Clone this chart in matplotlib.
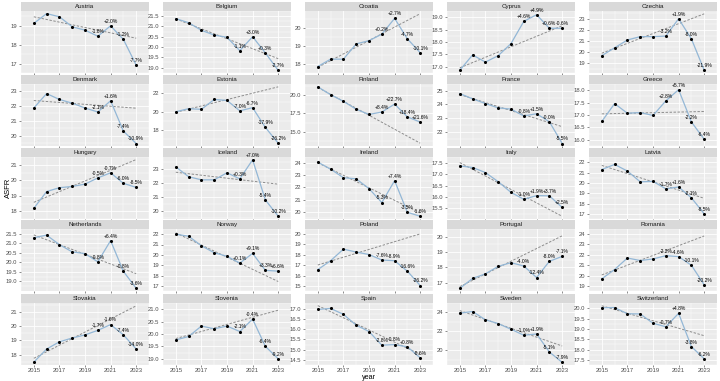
import numpy as np
import matplotlib
matplotlib.use('Agg')
import matplotlib.pyplot as plt
from matplotlib.patches import Rectangle

plt.rcParams['font.family'] = ['Liberation Sans', 'DejaVu Sans']

years = [2015, 2016, 2017, 2018, 2019, 2020, 2021, 2022, 2023]

countries = ["Austria", "Belgium", "Croatia", "Cyprus", "Czechia",
             "Denmark", "Estonia", "Finland", "France", "Greece",
             "Hungary", "Iceland", "Ireland", "Italy", "Latvia",
             "Netherlands", "Norway", "Poland", "Portugal", "Romania",
             "Slovakia", "Slovenia", "Spain", "Sweden", "Switzerland"]

asfr = {
    "Austria":     [19.13, 19.65, 19.48, 18.95, 18.77, 18.45, 19.00, 18.28, 16.92],
    "Belgium":     [21.38, 21.18, 20.81, 20.58, 20.47, 19.82, 20.50, 19.71, 18.86],
    "Croatia":     [17.86, 18.27, 18.27, 19.12, 19.30, 19.66, 20.54, 19.40, 18.63],
    "Cyprus":      [16.85, 17.47, 17.18, 17.44, 17.93, 18.83, 19.10, 18.55, 18.55],
    "Czechia":     [19.70, 20.40, 21.10, 21.40, 21.40, 21.45, 23.00, 21.20, 18.40],
    "Denmark":     [21.87, 22.85, 22.45, 22.20, 21.87, 21.60, 22.36, 20.30, 19.46],
    "Estonia":     [20.00, 20.33, 20.26, 21.33, 21.22, 20.10, 20.44, 18.30, 16.60],
    "Finland":     [21.13, 20.05, 19.15, 18.07, 17.36, 17.69, 18.77, 17.03, 16.32],
    "France":      [24.80, 24.41, 24.07, 23.75, 23.66, 23.16, 23.32, 22.73, 21.14],
    "Greece":      [16.74, 17.46, 17.07, 17.10, 16.98, 17.57, 18.02, 16.72, 16.02],
    "Hungary":     [18.19, 19.27, 19.52, 19.60, 19.75, 20.15, 20.48, 19.80, 19.54],
    "Iceland":     [23.12, 22.42, 22.20, 22.20, 22.70, 22.27, 23.62, 20.77, 19.62],
    "Ireland":     [24.08, 23.50, 22.80, 22.70, 21.90, 20.75, 22.55, 19.95, 19.62],
    "Italy":       [17.36, 17.29, 17.07, 16.67, 16.20, 15.90, 16.06, 16.05, 15.54],
    "Latvia":      [21.29, 21.78, 21.14, 20.10, 20.14, 19.42, 19.60, 18.55, 17.00],
    "Netherlands": [21.29, 21.43, 20.93, 20.55, 20.46, 20.03, 21.14, 19.53, 18.64],
    "Norway":      [22.00, 21.80, 20.88, 20.20, 19.86, 19.20, 20.14, 18.50, 18.42],
    "Poland":      [16.57, 17.43, 18.55, 18.27, 18.03, 17.50, 17.43, 16.42, 15.03],
    "Portugal":    [16.62, 17.27, 17.57, 18.06, 18.30, 18.08, 17.33, 18.39, 18.71],
    "Romania":     [19.68, 20.58, 21.69, 21.45, 21.60, 21.92, 21.83, 20.99, 19.10],
    "Slovakia":    [17.46, 18.39, 18.90, 19.17, 19.39, 19.71, 20.12, 19.39, 18.39],
    "Slovenia":    [19.76, 19.90, 20.32, 20.21, 20.32, 20.10, 20.60, 19.50, 19.00],
    "Spain":       [16.97, 17.02, 16.73, 16.20, 15.89, 15.22, 15.25, 15.14, 14.60],
    "Sweden":      [23.93, 24.10, 23.23, 22.83, 22.23, 21.60, 21.73, 19.83, 18.73],
    "Switzerland": [20.02, 20.03, 19.73, 19.72, 19.27, 19.10, 19.75, 18.14, 17.55],
}

# deviation from the 2015-2019 trend, labels for 2020-2023
dev_labels = {
    "Austria":     ["-1.8%", "+2.0%", "-1.2%", "-7.7%"],
    "Belgium":     ["-1.1%", "+3.0%", "+0.3%", "-2.7%"],
    "Croatia":     ["+0.2%", "+2.7%", "-4.7%", "-10.1%"],
    "Cyprus":      ["+4.6%", "+4.9%", "+0.6%", "-0.6%"],
    "Czechia":     ["-3.2%", "+1.9%", "-8.0%", "-21.9%"],
    "Denmark":     ["-2.1%", "+1.6%", "-7.4%", "-10.9%"],
    "Estonia":     ["-7.0%", "-6.7%", "-17.9%", "-26.2%"],
    "Finland":     ["+8.4%", "+22.7%", "+18.4%", "+21.6%"],
    "France":      ["-0.8%", "+1.5%", "-0.0%", "-5.5%"],
    "Greece":      ["+2.8%", "+5.7%", "-2.2%", "-6.4%"],
    "Hungary":     ["-0.5%", "-0.7%", "-6.0%", "-8.5%"],
    "Iceland":     ["+0.3%", "+7.0%", "-5.4%", "-10.2%"],
    "Ireland":     ["-5.3%", "+7.4%", "-3.5%", "-1.6%"],
    "Italy":       ["-1.0%", "+1.9%", "+3.7%", "+2.5%"],
    "Latvia":      ["-1.7%", "+1.6%", "-2.1%", "-8.5%"],
    "Netherlands": ["-0.8%", "+6.4%", "-0.8%", "-3.6%"],
    "Norway":      ["+0.1%", "+9.1%", "+3.3%", "+6.6%"],
    "Poland":      ["-7.6%", "-8.9%", "-16.6%", "-26.2%"],
    "Portugal":    ["-4.0%", "-12.4%", "-8.0%", "-7.1%"],
    "Romania":     ["-2.2%", "-4.6%", "-10.1%", "-20.2%"],
    "Slovakia":    ["-1.7%", "-1.6%", "-7.4%", "-14.0%"],
    "Slovenia":    ["-2.1%", "-0.4%", "-6.4%", "-9.2%"],
    "Spain":       ["-2.8%", "-0.8%", "+0.8%", "-0.6%"],
    "Sweden":      ["-1.0%", "+1.9%", "-5.1%", "-7.9%"],
    "Switzerland": ["-0.7%", "+4.8%", "-3.8%", "-6.2%"],
}

y_breaks = {
    "Austria": [17, 18, 19], "Belgium": [19.0, 19.5, 20.0, 20.5, 21.0, 21.5],
    "Croatia": [18, 19, 20], "Cyprus": [17.0, 17.5, 18.0, 18.5, 19.0],
    "Czechia": [19, 20, 21, 22, 23], "Denmark": [20, 21, 22, 23],
    "Estonia": [18, 20, 22], "Finland": [15.0, 17.5, 20.0],
    "France": [22, 23, 24, 25], "Greece": [16.0, 16.5, 17.0, 17.5, 18.0],
    "Hungary": [18, 19, 20, 21], "Iceland": [20, 21, 22, 23],
    "Ireland": [20, 21, 22, 23, 24], "Italy": [15.5, 16.0, 16.5, 17.0, 17.5],
    "Latvia": [17, 18, 19, 20, 21, 22],
    "Netherlands": [19.0, 19.5, 20.0, 20.5, 21.0, 21.5],
    "Norway": [17, 18, 19, 20, 21, 22], "Poland": [15, 16, 17, 18, 19, 20],
    "Portugal": [17, 18, 19, 20], "Romania": [19, 20, 21, 22, 23, 24],
    "Slovakia": [18, 19, 20, 21], "Slovenia": [19.0, 19.5, 20.0, 20.5, 21.0],
    "Spain": [14.5, 15.0, 15.5, 16.0, 16.5, 17.0], "Sweden": [20, 22, 24],
    "Switzerland": [17.5, 18.0, 18.5, 19.0, 19.5, 20.0],
}

x_breaks = [2015, 2017, 2019, 2021, 2023]

W, H = 720, 381
fig = plt.figure(figsize=(W / 100, H / 100), dpi=100)

col_left = [21, 163, 305, 447, 589]
row_top = [11, 84, 157, 229, 303]
pw, ph, strip_h = 128, 62, 9

yrs = np.array(years)
for i, c in enumerate(countries):
    r, k = divmod(i, 5)
    ax = fig.add_axes([col_left[k] / W, 1 - (row_top[r] + ph) / H, pw / W, ph / H])
    ax.set_facecolor('#EBEBEB')
    for s in ax.spines.values():
        s.set_visible(False)

    vals = np.array(asfr[c])
    # linear trend fitted on the pre-2020 years and extended
    coef = np.polyfit(yrs[:5], vals[:5], 1)
    trend = np.polyval(coef, yrs)

    ax.plot(yrs, trend, color='#8C8C8C', lw=0.7, dashes=(2.5, 1.6), zorder=2)
    ax.plot(yrs, vals, color='#93B7D6', lw=0.9, zorder=3)
    ax.scatter(yrs, vals, s=5, color='black', zorder=4, linewidths=0)
    for yr, v, lab in zip(yrs[5:], vals[5:], dev_labels[c]):
        ax.annotate(lab, (yr, v), xytext=(0, 1.5), textcoords='offset points',
                    ha='center', va='bottom', fontsize=3.6, color='black', zorder=5)

    lo = min(vals.min(), trend.min())
    hi = max(vals.max(), trend.max())
    pad = (hi - lo) * 0.05
    ax.set_ylim(lo - pad, hi + pad)
    ax.set_xlim(2015 - 0.4, 2023 + 0.4)

    br = y_breaks[c]
    step = br[1] - br[0]
    ax.set_yticks(br)
    ax.set_yticks([b + step / 2 for b in [br[0] - step] + br], minor=True)
    fmt = '%d' if all(float(b).is_integer() for b in br) else '%.1f'
    ax.set_yticklabels([fmt % b for b in br])
    ax.set_xticks(x_breaks)
    ax.set_xticks([2014, 2016, 2018, 2020, 2022, 2024], minor=True)
    if r == 4:
        ax.set_xticklabels([str(x) for x in x_breaks])
    else:
        ax.set_xticklabels([])

    ax.grid(which='major', color='white', lw=0.6)
    ax.grid(which='minor', color='white', lw=0.3)
    ax.set_axisbelow(True)
    ax.tick_params(which='major', length=1.5, width=0.4, color='#333333',
                   labelsize=4.2, labelcolor='#4D4D4D', pad=1)
    ax.tick_params(which='minor', length=0)

    # facet strip
    sh = strip_h / ph
    ax.add_patch(Rectangle((0, 1), 1, sh, transform=ax.transAxes,
                           facecolor='#D9D9D9', edgecolor='none', clip_on=False))
    ax.text(0.5, 1 + sh / 2, c, transform=ax.transAxes, ha='center', va='center',
            fontsize=4.5, color='#1A1A1A')

fig.text(8 / W, 1 - 188 / H, 'ASFR', rotation=90, ha='center', va='center',
         fontsize=5.5, color='black')
fig.text(369 / W, 1 - 377.5 / H, 'year', ha='center', va='center',
         fontsize=5.2, color='black')

fig.savefig('out.png', dpi=100, facecolor='white')
